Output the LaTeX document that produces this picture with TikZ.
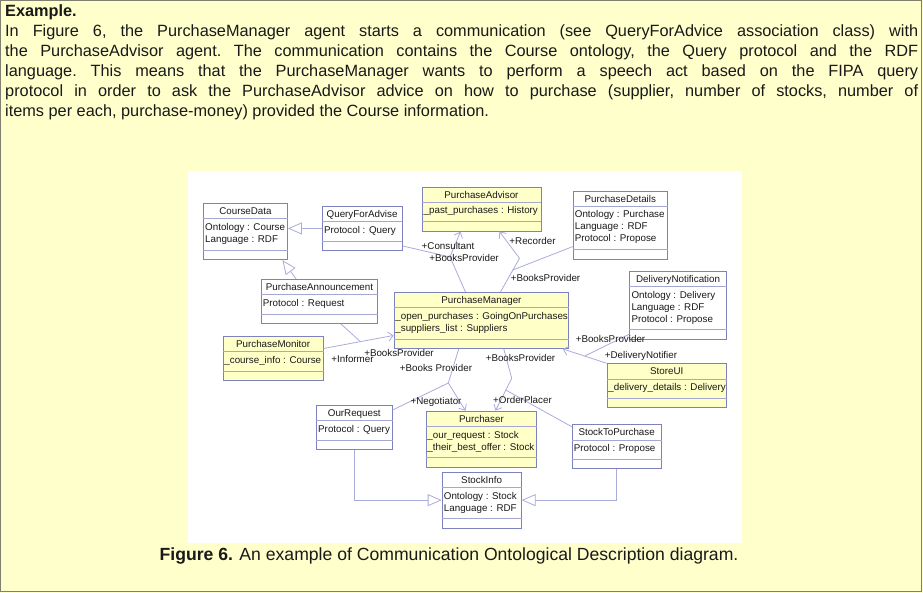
\documentclass[tikz,border=0pt]{standalone}
\usepackage{fontspec}
\setmainfont{Liberation Sans}
\usetikzlibrary{arrows.meta}
\definecolor{pagebg}{RGB}{255,255,204}
\definecolor{agentbg}{RGB}{255,255,200}
\definecolor{boxline}{RGB}{125,130,190}
\definecolor{linkline}{RGB}{170,172,220}
\definecolor{frameline}{RGB}{128,128,112}
\definecolor{inktext}{RGB}{25,25,25}

\begin{document}
\begin{tikzpicture}[x=1pt, y=-1pt, inktext,
	cls/.style={draw=boxline, fill=white, line width=0.9pt, anchor=north west, inner sep=0pt, minimum height=44pt},
	cls2/.style={cls, minimum height=56pt},
	cls3/.style={cls, minimum height=68pt},
	agent/.style={fill=agentbg},
	nm/.style={font=\fontsize{9.8}{12}\selectfont, inner sep=0pt, anchor=base},
	attr/.style={font=\fontsize{9.8}{12}\selectfont, inner sep=0pt, anchor=north west, align=left},
	compart/.style={draw=boxline!70, line width=0.6pt},
	link/.style={draw=linkline, line width=0.8pt},
	nav/.style={link, -{Straight Barb[length=5pt, width=9pt]}},
	gen/.style={link, -{Triangle[length=14pt, width=12pt, fill=white]}},
	role/.style={font=\fontsize{9.8}{12}\selectfont, inner sep=0pt}]
			\useasboundingbox (0,0) rectangle (923,593);
			\fill[pagebg] (0,0) rectangle (923,593);
			\draw[frameline, line width=1pt] (0.5,0.5) rectangle (921.5,591.5);
			\fill[white] (188,171) rectangle (742,543);
			\node[anchor=north west, text width=913pt, align=justify, inner sep=0pt, font=\fontsize{16.3}{20}\selectfont\frenchspacing] (intro) at (5,4.5) {\textbf{Example.}\\
				In Figure 6, the PurchaseManager agent starts a communication (see QueryForAdvice association class) with\linebreak
				the PurchaseAdvisor agent. The communication contains the Course ontology, the Query protocol and the RDF\linebreak
				language. This means that the PurchaseManager wants to perform a speech act based on the FIPA query\linebreak
				protocol in order to ask the PurchaseAdvisor advice on how to purchase (supplier, number of stocks, number of\linebreak
				items per each, purchase-money) provided the Course information.};
			\node[font=\fontsize{17.6}{20}\selectfont, inner sep=0pt] (caption) at (449,556) {\textbf{Figure 6.} An example of Communication Ontological Description diagram.};
			% classes
			\node[cls2, minimum width=84pt] (cd) at (203,203.3) {};
			\node[nm] (cd-n) at ([yshift=-11.5pt]cd.north) {CourseData};
			\draw[compart] ([yshift=-15.5pt]cd.north west) -- ([yshift=-15.5pt]cd.north east) ([yshift=10pt]cd.south west) -- ([yshift=10pt]cd.south east);
			\node[attr] (cd-a) at ([xshift=2pt,yshift=-20pt]cd.north west) {Ontology : Course\\Language : RDF};
			\node[cls, minimum width=79.7pt] (qfa) at (321.8,206) {};
			\node[nm] (qfa-n) at ([yshift=-11.5pt]qfa.north) {QueryForAdvise};
			\draw[compart] ([yshift=-15.5pt]qfa.north west) -- ([yshift=-15.5pt]qfa.north east) ([yshift=10pt]qfa.south west) -- ([yshift=10pt]qfa.south east);
			\node[attr] (qfa-a) at ([xshift=2pt,yshift=-20pt]qfa.north west) {Protocol : Query};
			\node[cls, agent, minimum width=119pt] (pa) at (421.5,186.7) {};
			\node[nm] (pa-n) at ([yshift=-11.5pt]pa.north) {PurchaseAdvisor};
			\draw[compart] ([yshift=-15.5pt]pa.north west) -- ([yshift=-15.5pt]pa.north east) ([yshift=10pt]pa.south west) -- ([yshift=10pt]pa.south east);
			\node[attr] (pa-a) at ([xshift=2pt,yshift=-20pt]pa.north west) {\_past\_purchases : History};
			\node[cls3, minimum width=94.3pt] (pd) at (572.7,190.7) {};
			\node[nm] (pd-n) at ([yshift=-11.5pt]pd.north) {PurchaseDetails};
			\draw[compart] ([yshift=-15.5pt]pd.north west) -- ([yshift=-15.5pt]pd.north east) ([yshift=10pt]pd.south west) -- ([yshift=10pt]pd.south east);
			\node[attr] (pd-a) at ([xshift=2pt,yshift=-20pt]pd.north west) {Ontology : Purchase\\Language : RDF\\Protocol : Propose};
			\node[cls, minimum width=116.6pt] (pan) at (260.7,279) {};
			\node[nm] (pan-n) at ([yshift=-11.5pt]pan.north) {PurchaseAnnouncement};
			\draw[compart] ([yshift=-15.5pt]pan.north west) -- ([yshift=-15.5pt]pan.north east) ([yshift=10pt]pan.south west) -- ([yshift=10pt]pan.south east);
			\node[attr] (pan-a) at ([xshift=2pt,yshift=-20pt]pan.north west) {Protocol : Request};
			\node[cls2, agent, minimum width=174.6pt] (pm) at (393.7,292) {};
			\node[nm] (pm-n) at ([yshift=-11.5pt]pm.north) {PurchaseManager};
			\draw[compart] ([yshift=-15.5pt]pm.north west) -- ([yshift=-15.5pt]pm.north east) ([yshift=10pt]pm.south west) -- ([yshift=10pt]pm.south east);
			\node[attr] (pm-a) at ([xshift=1.5pt,yshift=-20pt]pm.north west) {\_open\_purchases : GoingOnPurchases\\\_suppliers\_list : Suppliers};
			\node[cls, agent, minimum width=100pt] (pmo) at (222.7,336) {};
			\node[nm] (pmo-n) at ([yshift=-11.5pt]pmo.north) {PurchaseMonitor};
			\draw[compart] ([yshift=-15.5pt]pmo.north west) -- ([yshift=-15.5pt]pmo.north east) ([yshift=10pt]pmo.south west) -- ([yshift=10pt]pmo.south east);
			\node[attr] (pmo-a) at ([xshift=1.5pt,yshift=-20pt]pmo.north west) {\_course\_info : Course};
			\node[cls3, minimum width=96.7pt] (dn) at (629.3,270.7) {};
			\node[nm] (dn-n) at ([yshift=-11.5pt]dn.north) {DeliveryNotification};
			\draw[compart] ([yshift=-15.5pt]dn.north west) -- ([yshift=-15.5pt]dn.north east) ([yshift=10pt]dn.south west) -- ([yshift=10pt]dn.south east);
			\node[attr] (dn-a) at ([xshift=2pt,yshift=-20pt]dn.north west) {Ontology : Delivery\\Language : RDF\\Protocol : Propose};
			\node[cls, agent, minimum width=119.3pt] (sui) at (606.7,363.3) {};
			\node[nm] (sui-n) at ([yshift=-11.5pt]sui.north) {StoreUI};
			\draw[compart] ([yshift=-15.5pt]sui.north west) -- ([yshift=-15.5pt]sui.north east) ([yshift=10pt]sui.south west) -- ([yshift=10pt]sui.south east);
			\node[attr] (sui-a) at ([xshift=1.5pt,yshift=-20pt]sui.north west) {\_delivery\_details : Delivery};
			\node[cls, minimum width=75.7pt] (orq) at (316,405) {};
			\node[nm] (orq-n) at ([yshift=-11.5pt]orq.north) {OurRequest};
			\draw[compart] ([yshift=-15.5pt]orq.north west) -- ([yshift=-15.5pt]orq.north east) ([yshift=10pt]orq.south west) -- ([yshift=10pt]orq.south east);
			\node[attr] (orq-a) at ([xshift=2pt,yshift=-20pt]orq.north west) {Protocol : Query};
			\node[cls2, agent, minimum width=110.6pt] (pu) at (425.7,410.7) {};
			\node[nm] (pu-n) at ([yshift=-11.5pt]pu.north) {Purchaser};
			\draw[compart] ([yshift=-15.5pt]pu.north west) -- ([yshift=-15.5pt]pu.north east) ([yshift=10pt]pu.south west) -- ([yshift=10pt]pu.south east);
			\node[attr] (pu-a) at ([xshift=1.5pt,yshift=-20pt]pu.north west) {\_our\_request : Stock\\\_their\_best\_offer : Stock};
			\node[cls, minimum width=89pt] (stp) at (571.7,424.3) {};
			\node[nm] (stp-n) at ([yshift=-11.5pt]stp.north) {StockToPurchase};
			\draw[compart] ([yshift=-15.5pt]stp.north west) -- ([yshift=-15.5pt]stp.north east) ([yshift=10pt]stp.south west) -- ([yshift=10pt]stp.south east);
			\node[attr] (stp-a) at ([xshift=2pt,yshift=-20pt]stp.north west) {Protocol : Propose};
			\node[cls2, minimum width=79pt] (si) at (441.7,471.7) {};
			\node[nm] (si-n) at ([yshift=-11.5pt]si.north) {StockInfo};
			\draw[compart] ([yshift=-15.5pt]si.north west) -- ([yshift=-15.5pt]si.north east) ([yshift=10pt]si.south west) -- ([yshift=10pt]si.south east);
			\node[attr] (si-a) at ([xshift=2pt,yshift=-20pt]si.north west) {Ontology : Stock\\Language : RDF};
			% associations
			\coordinate (cbend) at (450,257);
			\coordinate (rbend) at (519.5,258.3);
			\coordinate (rmid) at (512.7,270);
			\coordinate (nbend) at (448.3,383);
			\coordinate (obend) at (511.7,378.3);
			\coordinate (omid) at (505.7,390);
			\coordinate (imid) at (360,341.3);
			\coordinate (dmid) at (585,355.9);
			\draw[nav] ([xshift=-16pt]pm.north) -- (cbend) -- ([xshift=-21pt]pa.south);
			\draw[link] ([yshift=5pt]qfa.south east) -- (cbend);
			\draw[nav] ([xshift=19pt]pm.north) -- (rbend) -- ([xshift=18pt]pa.south);
			\draw[link] ([yshift=13pt]pd.south west) -- (rmid);
			\draw[nav] ([xshift=-22.7pt]pm.south) -- (nbend) -- ([xshift=-16pt]pu.north);
			\draw[link] ([yshift=-5pt]orq.north east) -- (nbend);
			\draw[nav] ([xshift=22.3pt]pm.south) -- (obend) -- ([xshift=14pt]pu.north);
			\draw[link] ([yshift=-2.4pt]stp.north west) -- (omid);
			\draw[nav] ([yshift=10pt]pmo.east) -- ([yshift=-15pt]pm.west);
			\draw[link] ([xshift=21.4pt]pan.south) -- (imid);
			\draw[nav] (sui.north west) -- ([xshift=-6.5pt]pm.south east);
			\draw[link] ([yshift=5.4pt]dn.south west) -- (dmid);
			% generalizations
			\draw[gen] (qfa.west) -- (qfa.west -| cd.east);
			\draw[gen] ([xshift=-23.3pt]pan.north) -- ([xshift=37pt]cd.south);
			\draw[gen] (orq.south) |- (si.west);
			\draw[gen] (stp.south) |- (si.east);
			% roles
			\node[role] (r1) at (448,246) {+Consultant};
			\node[role] (r2) at (464,258) {+BooksProvider};
			\node[role] (r3) at (532.5,241) {+Recorder};
			\node[role] (r4) at (545.5,278) {+BooksProvider};
			\node[role] (r5) at (399,352.5) {+BooksProvider};
			\node[role] (r6) at (352.5,359) {+Informer};
			\node[role] (r7) at (436,368) {+Books Provider};
			\node[role] (r8) at (520.5,358) {+BooksProvider};
			\node[role] (r9) at (436,402) {+Negotiator};
			\node[role] (r10) at (522.5,400) {+OrderPlacer};
			\node[role] (r11) at (610.5,339) {+BooksProvider};
			\node[role] (r12) at (641,355.7) {+DeliveryNotifier};
		\end{tikzpicture}
\end{document}
